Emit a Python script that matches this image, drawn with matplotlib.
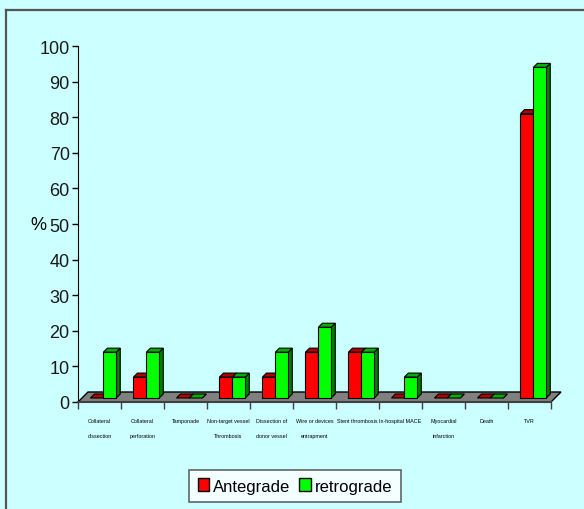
import matplotlib
matplotlib.use("Agg")
import matplotlib.pyplot as plt
from matplotlib.patches import Polygon, Patch
from matplotlib.lines import Line2D

plt.rcParams['font.family'] = ['Liberation Sans', 'DejaVu Sans']

categories = ["Collateral\ndissection", "Collateral\nperforation", "Tamponade",
              "Non-target vessel\nThrombosis", "Dissection of\ndonor vessel",
              "Wire or devices\nentrapment", "Stent thrombosis", "In-hospital MACE",
              "Myocardial\ninfarction", "Death", "TVR"]
antegrade = [0, 7, 0, 7, 7, 14, 14, 0, 0, 0, 81]
retrograde = [14, 14, 0, 7, 14, 21, 14, 7, 0, 0, 94]
yticks = list(range(0, 101, 10))

BG = '#ccffff'
W, H = 584, 510
fig = plt.figure(figsize=(W / 100, H / 100), dpi=100, facecolor=BG)
ax = fig.add_axes([78 / W, (H - 403) / H, 473 / W, 356 / H])
ax.set_facecolor(BG)
ax.set_xlim(0, len(categories))
ax.set_ylim(0, 100)

# pixel -> data unit helpers
px_x = len(categories) / 473
px_y = 100 / 356

# grey floor
fd = 10
floor = Polygon([(0, 0), (len(categories), 0),
                 (len(categories) + fd * px_x, fd * px_y), (fd * px_x, fd * px_y)],
                closed=True, facecolor='#808080', edgecolor='black', lw=1,
                clip_on=False, zorder=1)
ax.add_patch(floor)

base = 4 * px_y
dx, dy = 4 * px_x, 4 * px_y
bw = 0.30


def bar3d(x0, v, front, top, side):
    x1 = x0 + bw
    t = max(v, base)
    kw = dict(closed=True, edgecolor='black', lw=0.8, clip_on=False, zorder=2)
    ax.add_patch(Polygon([(x1, base), (x1, t), (x1 + dx, t + dy), (x1 + dx, base + dy)],
                         facecolor=side, **kw))
    ax.add_patch(Polygon([(x0, t), (x1, t), (x1 + dx, t + dy), (x0 + dx, t + dy)],
                         facecolor=top, **kw))
    if t > base:
        ax.add_patch(Polygon([(x0, base), (x1, base), (x1, t), (x0, t)],
                             facecolor=front, **kw))


for i in range(len(categories)):
    bar3d(i + 0.29, antegrade[i], '#ff0000', '#b00000', '#800000')
    bar3d(i + 0.29 + bw, retrograde[i], '#00ff00', '#00b000', '#008000')

for s in ['top', 'right']:
    ax.spines[s].set_visible(False)
ax.spines['left'].set_color('black')
ax.spines['bottom'].set_color('#404040')
ax.spines['bottom'].set_linewidth(1.5)

ax.set_yticks(yticks)
ax.set_yticklabels([str(t) for t in yticks], fontsize=13, color='#1a1a1a')
ax.tick_params(axis='y', direction='out', length=4, width=1, pad=2)
ax.set_xticks(range(len(categories) + 1))
ax.set_xticklabels([])
ax.tick_params(axis='x', direction='out', length=5, width=1, color='#404040')

for i, lab in enumerate(categories):
    ax.text(i + 0.5, -4.5, lab, ha='center', va='top', fontsize=3.9,
            linespacing=3.4)

fig.text(38 / W, (H - 226) / H, '%', fontsize=13, ha='center', va='center')

handles = [Patch(facecolor='#ff0000', edgecolor='black', label='Antegrade'),
           Patch(facecolor='#00ff00', edgecolor='black', label='retrograde')]
leg = fig.legend(handles=handles, loc='center', bbox_to_anchor=(295 / W, (H - 487) / H),
                 ncol=2, fontsize=12, frameon=True, fancybox=False,
                 handlelength=0.7, handleheight=0.8, handletextpad=0.25,
                 columnspacing=0.5, borderpad=0.5)
leg.get_frame().set_edgecolor('#404040')
leg.get_frame().set_facecolor('white')
leg.get_frame().set_linewidth(1.2)

# chart frame on left and top
fig.add_artist(Line2D([5.5 / W, 5.5 / W], [0, (H - 11) / H], color='#555555', lw=1.6))
fig.add_artist(Line2D([5.5 / W, 1], [(H - 11) / H, (H - 11) / H], color='#555555', lw=1.6))

fig.savefig('out.png', dpi=100, facecolor=BG)
